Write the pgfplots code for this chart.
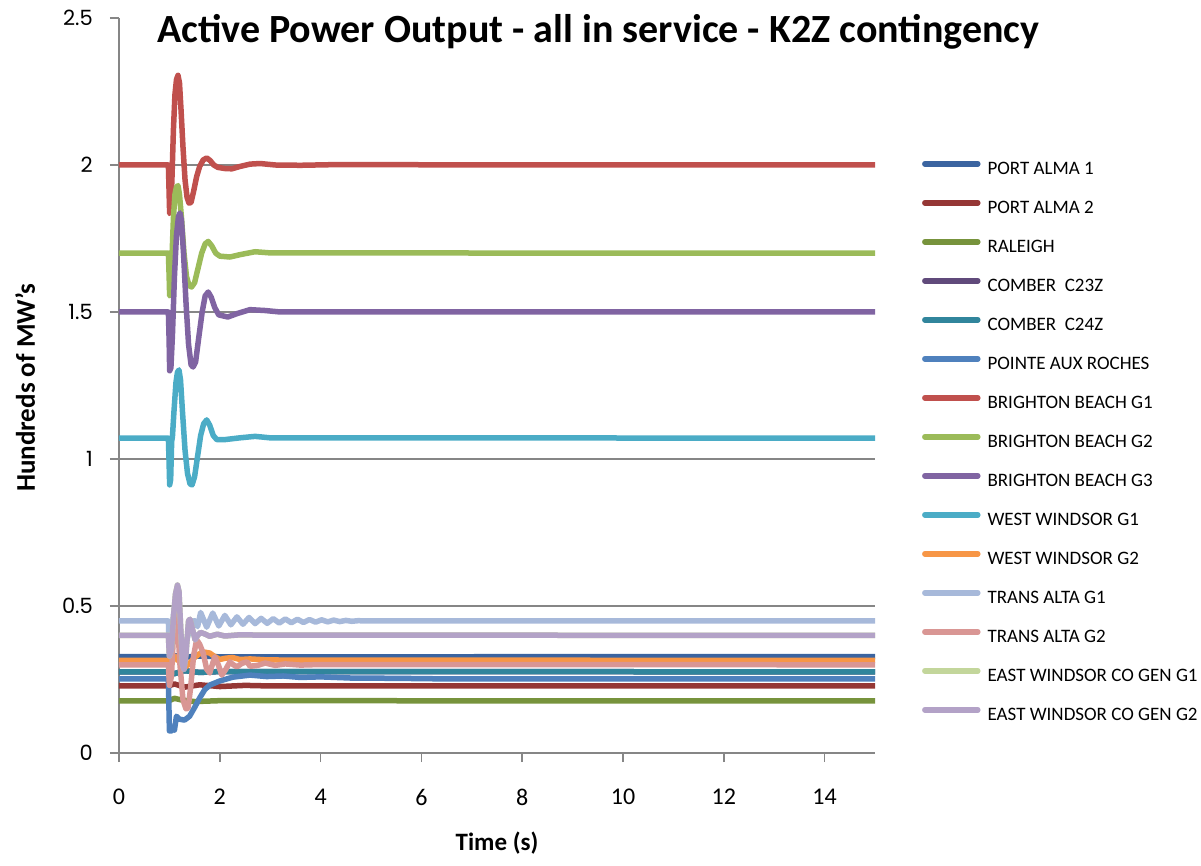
\documentclass[border=0pt]{standalone}
\usepackage{fontspec}
\setmainfont{Carlito}
\newfontfamily\tickfont{Poppins}
\usepackage{pgfplots}
\pgfplotsset{compat=1.18}

\definecolor{axisgray}{HTML}{868686}
\definecolor{pa1}{HTML}{3B64A0}
\definecolor{pa2}{HTML}{953735}
\definecolor{ral}{HTML}{77933C}
\definecolor{c23}{HTML}{604A7B}
\definecolor{c24}{HTML}{31859C}
\definecolor{par}{HTML}{4F81BD}
\definecolor{bb1}{HTML}{C0504D}
\definecolor{bb2}{HTML}{9BBB59}
\definecolor{bb3}{HTML}{8064A2}
\definecolor{ww1}{HTML}{4BACC6}
\definecolor{ww2}{HTML}{F79646}
\definecolor{ta1}{HTML}{A7B9DA}
\definecolor{ta2}{HTML}{D99694}
\definecolor{ew1}{HTML}{C3D69B}
\definecolor{ew2}{HTML}{B3A2C7}

\begin{document}
\begin{tikzpicture}
\useasboundingbox (0,0) rectangle (1201pt,865pt);
\begin{axis}[
  at={(119pt,112pt)}, anchor=south west,
  scale only axis,
  width=756pt, height=735pt,
  xmin=0, xmax=15, ymin=0, ymax=2.5,
  xtick={0,2,...,14},
  ytick={0,0.5,...,2.5},
  axis lines=left,
  axis line style={-, draw=axisgray, line width=1.5pt},
  tick align=outside,
  major tick length=9pt,
  tick style={draw=axisgray, line width=1.5pt},
  extra y ticks={0.5,1,1.5,2},
  extra y tick style={grid=major, major tick length=0pt, yticklabel={}},
  major grid style={draw=axisgray, line width=1.5pt},
  /pgf/number format/assume math mode=true,
  xticklabel style={font=\fontsize{24}{24}\selectfont, inner sep=0pt, yshift=-27pt},
  yticklabel style={font=\tickfont\fontsize{21}{21}\selectfont, inner sep=0pt, xshift=-17pt},
  title={Active Power Output - all in service - K2Z contingency},
  title style={font=\bfseries\fontsize{40}{40}\selectfont, at={(axis description cs:0.634,0.973)}, anchor=center},
  xlabel={Time (s)},
  xlabel style={font=\bfseries\fontsize{25}{25}\selectfont, at={(axis description cs:0.5,-0.1225)}, anchor=center},
  ylabel={Hundreds of MW's},
  ylabel style={font=\bfseries\fontsize{27}{27}\selectfont, at={(axis description cs:-0.1243,0.497)}, anchor=center},
  legend style={at={(axis description cs:1.062,0.4224)}, anchor=west, draw=none, fill=none,
    inner sep=0pt, row sep=22pt, column sep=7pt,
    font=\fontsize{19}{19}\selectfont,
    nodes={inner sep=0pt, text height=12.5pt, text depth=4pt, anchor=west}},
  legend cell align=left,
  legend image code/.code={\draw[#1, line width=5.5pt, line cap=round] (0pt,6pt) -- (53pt,6pt);},
  every axis plot/.append style={line width=5.5pt, line join=round, no markers},
]
% PORT ALMA 1
\addplot[pa1] coordinates {(0,0.328)(0.98,0.328)(1.1,0.331)(1.3,0.326)(1.6,0.330)(2,0.327)(15,0.328)};
% PORT ALMA 2
\addplot[pa2] coordinates {(0,0.228)(0.98,0.228)(1.1,0.235)(1.3,0.224)(1.6,0.232)(2.0,0.226)(2.5,0.230)(3,0.228)(15,0.228)};
% RALEIGH
\addplot[ral] coordinates {(0,0.177)(0.98,0.177)(1.1,0.186)(1.25,0.180)(1.5,0.175)(2,0.178)(15,0.177)};
% COMBER C23Z
\addplot[c23] coordinates {(0,0.276)(0.98,0.276)(1.1,0.270)(1.3,0.280)(1.6,0.274)(2,0.277)(15,0.276)};
% COMBER C24Z
\addplot[c24] coordinates {(0,0.276)(0.98,0.276)(1.1,0.270)(1.3,0.280)(1.6,0.274)(2,0.277)(15,0.276)};
% POINTE AUX ROCHES
\addplot[par] coordinates {(0,0.252)(0.98,0.252)(1.0,0.075)(1.05,0.075)(1.08,0.09)(1.1,0.078)(1.14,0.125)(1.2,0.115)(1.3,0.112)(1.4,0.125)(1.5,0.155)(1.6,0.187)(1.7,0.215)(1.8,0.231)(2.0,0.245)(2.26,0.258)(2.6,0.265)(2.93,0.260)(3.26,0.262)(3.6,0.257)(4.0,0.259)(4.6,0.255)(5.5,0.254)(6.5,0.252)(15,0.252)};
% BRIGHTON BEACH G1
\addplot[bb1] coordinates {(0,2.0)(0.98,2.0)(0.995,1.90)(1.005,1.835)(1.025,1.84)(1.05,1.95)(1.08,2.12)(1.11,2.24)(1.14,2.29)(1.17,2.305)(1.20,2.28)(1.23,2.19)(1.27,2.06)(1.31,1.95)(1.35,1.89)(1.39,1.87)(1.43,1.873)(1.48,1.91)(1.54,1.96)(1.60,1.995)(1.67,2.017)(1.74,2.024)(1.81,2.015)(1.88,2.0)(1.96,1.992)(2.1,1.988)(2.24,1.987)(2.4,1.995)(2.6,2.003)(2.8,2.005)(3.1,2.0)(3.6,1.999)(4.2,2.001)(15,2.0)};
% BRIGHTON BEACH G2
\addplot[bb2] coordinates {(0,1.70)(0.98,1.70)(0.995,1.62)(1.005,1.555)(1.025,1.56)(1.05,1.68)(1.08,1.82)(1.11,1.90)(1.14,1.925)(1.17,1.93)(1.20,1.90)(1.24,1.82)(1.29,1.70)(1.34,1.62)(1.39,1.59)(1.44,1.585)(1.5,1.60)(1.57,1.65)(1.64,1.70)(1.71,1.732)(1.77,1.74)(1.84,1.725)(1.92,1.70)(2.0,1.69)(2.2,1.687)(2.4,1.695)(2.7,1.705)(3.0,1.701)(15,1.70)};
% BRIGHTON BEACH G3
\addplot[bb3] coordinates {(0,1.5)(0.98,1.5)(0.995,1.40)(1.005,1.30)(1.03,1.31)(1.06,1.42)(1.10,1.62)(1.14,1.76)(1.18,1.825)(1.21,1.837)(1.24,1.81)(1.28,1.70)(1.33,1.53)(1.38,1.39)(1.43,1.32)(1.47,1.313)(1.52,1.33)(1.58,1.41)(1.65,1.50)(1.71,1.555)(1.77,1.568)(1.83,1.55)(1.9,1.515)(1.98,1.49)(2.16,1.483)(2.35,1.495)(2.6,1.508)(2.9,1.505)(3.2,1.5)(15,1.5)};
% WEST WINDSOR G1
\addplot[ww1] coordinates {(0,1.071)(0.98,1.071)(0.995,0.98)(1.005,0.912)(1.025,0.93)(1.045,1.06)(1.06,1.075)(1.09,1.16)(1.13,1.26)(1.16,1.295)(1.19,1.303)(1.22,1.27)(1.26,1.16)(1.31,1.03)(1.36,0.95)(1.41,0.915)(1.45,0.912)(1.5,0.94)(1.56,1.01)(1.62,1.08)(1.68,1.12)(1.74,1.133)(1.8,1.115)(1.87,1.08)(1.94,1.066)(2.1,1.066)(2.4,1.072)(2.7,1.077)(3.0,1.072)(15,1.071)};
% WEST WINDSOR G2
\addplot[ww2] coordinates {(0,0.315)(0.98,0.315)(1.02,0.29)(1.1,0.33)(1.2,0.31)(1.3,0.29)(1.4,0.305)(1.5,0.325)(1.6,0.338)(1.7,0.343)(1.8,0.34)(1.9,0.328)(2.0,0.318)(2.1,0.322)(2.25,0.325)(2.4,0.318)(2.6,0.32)(2.9,0.317)(3.3,0.316)(15,0.315)};
% TRANS ALTA G1
\addplot[ta1] coordinates {(0,0.449)(0.98,0.449)(1.0,0.34)(1.04,0.38)(1.08,0.47)(1.12,0.52)(1.16,0.50)(1.21,0.42)(1.26,0.37)(1.31,0.36)(1.37,0.40)(1.43,0.445)(1.50,0.45)(1.56,0.43)(1.62,0.478)(1.74,0.428)(1.86,0.476)(1.98,0.432)(2.10,0.468)(2.22,0.436)(2.34,0.463)(2.46,0.438)(2.58,0.461)(2.70,0.440)(2.82,0.458)(2.94,0.441)(3.06,0.457)(3.18,0.442)(3.30,0.456)(3.42,0.443)(3.54,0.455)(3.66,0.444)(3.78,0.454)(3.90,0.445)(4.02,0.453)(4.14,0.446)(4.26,0.452)(4.38,0.447)(4.50,0.451)(4.62,0.448)(4.74,0.450)(5.0,0.449)(15,0.449)};
% TRANS ALTA G2
\addplot[ta2] coordinates {(0,0.30)(0.98,0.30)(1.0,0.23)(1.04,0.26)(1.08,0.40)(1.12,0.48)(1.16,0.45)(1.21,0.30)(1.27,0.18)(1.33,0.15)(1.37,0.153)(1.42,0.22)(1.48,0.33)(1.54,0.385)(1.6,0.37)(1.67,0.34)(1.74,0.285)(1.8,0.272)(1.85,0.30)(1.9,0.327)(1.97,0.30)(2.04,0.265)(2.12,0.285)(2.2,0.31)(2.27,0.30)(2.34,0.293)(2.44,0.305)(2.54,0.31)(2.6,0.295)(2.75,0.298)(2.9,0.306)(3.1,0.298)(3.3,0.303)(3.6,0.299)(4.0,0.301)(15,0.30)};
% EAST WINDSOR CO GEN G1
\addplot[ew1] coordinates {(0,0.40)(0.98,0.40)(1.0,0.33)(1.04,0.35)(1.08,0.46)(1.12,0.54)(1.16,0.571)(1.19,0.55)(1.22,0.44)(1.26,0.30)(1.29,0.285)(1.33,0.34)(1.38,0.45)(1.41,0.455)(1.46,0.42)(1.51,0.385)(1.56,0.40)(1.62,0.41)(1.7,0.405)(1.8,0.397)(1.95,0.404)(2.1,0.398)(2.4,0.402)(2.8,0.401)(15,0.40)};
% EAST WINDSOR CO GEN G2
\addplot[ew2] coordinates {(0,0.40)(0.98,0.40)(1.0,0.33)(1.04,0.35)(1.08,0.46)(1.12,0.54)(1.16,0.571)(1.19,0.55)(1.22,0.44)(1.26,0.30)(1.29,0.285)(1.33,0.34)(1.38,0.45)(1.41,0.455)(1.46,0.42)(1.51,0.385)(1.56,0.40)(1.62,0.41)(1.7,0.405)(1.8,0.397)(1.95,0.404)(2.1,0.398)(2.4,0.402)(2.8,0.401)(15,0.40)};
\legend{PORT ALMA 1, PORT ALMA 2, RALEIGH, COMBER\ \ C23Z, COMBER\ \ C24Z, POINTE AUX ROCHES, BRIGHTON BEACH G1, BRIGHTON BEACH G2, BRIGHTON BEACH G3, WEST WINDSOR G1, WEST WINDSOR G2, TRANS ALTA G1, TRANS ALTA G2, EAST WINDSOR CO GEN G1, EAST WINDSOR CO GEN G2}
\end{axis}
\end{tikzpicture}
\end{document}
